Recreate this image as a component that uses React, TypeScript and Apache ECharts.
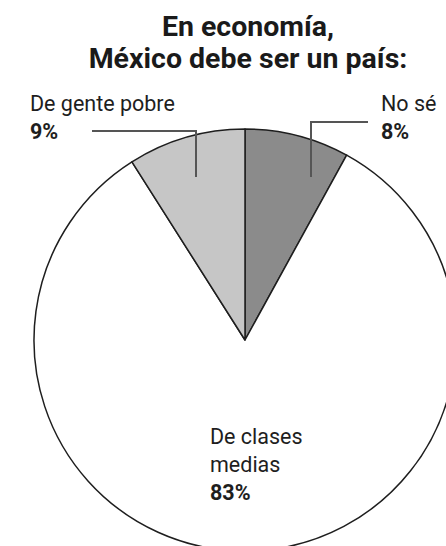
import React, { useEffect, useRef } from "react";
import * as echarts from "echarts";

const titleLines = ["En economía,", "México debe ser un país:"];
const categories = ["No sé", "De clases\nmedias", "De gente pobre"];
const values = [8, 83, 9];
const sliceColors = ["#8b8b8b", "#ffffff", "#c6c6c6"];

export default function App() {
  const ref = useRef<HTMLDivElement>(null);
  useEffect(() => {
    if (!ref.current) return;
    const chart = echarts.init(ref.current, null, { renderer: "svg" });
    const font = "Roboto, 'Noto Sans', sans-serif";
    const common = {
      type: "pie",
      center: [245, 340],
      radius: 211,
      startAngle: 90,
      clockwise: true,
      avoidLabelOverlap: false,
      emphasis: { disabled: true },
      silent: true,
    };
    chart.setOption({
      animation: false,
      backgroundColor: "#ffffff",
      title: {
        text: titleLines.join("\n"),
        left: 248,
        top: 10,
        padding: 0,
        textAlign: "center",
        textStyle: {
          fontFamily: font,
          fontSize: 28.5,
          fontWeight: "bold",
          lineHeight: 32,
          color: "#1a1a1a",
        },
      },
      series: [
        {
          ...common,
          z: 2,
          itemStyle: { borderColor: "#1e1e1e", borderWidth: 1.5 },
          label: { show: false },
          labelLine: { show: false },
          data: categories.map((name, i) => ({
            name,
            value: values[i],
            itemStyle: { color: sliceColors[i] },
          })),
        },
        {
          ...common,
          z: 5,
          itemStyle: { color: "rgba(0,0,0,0)", borderWidth: 0 },
          label: {
            show: true,
            position: "outside",
            formatter: (p: any) => {
              const nameLines = String(p.name)
                .split("\n")
                .map((s: string) => `{n|${s}}`)
                .join("\n");
              return `${nameLines}\n{p|${p.value}%}`;
            },
            rich: {
              n: { fontFamily: font, fontSize: 21.5, lineHeight: 28, color: "#1e1e1e" },
              p: { fontFamily: font, fontSize: 21.5, lineHeight: 28, fontWeight: "bold", color: "#1e1e1e" },
            },
          },
          labelLine: {
            show: true,
            lineStyle: { color: "#555555", width: 2 },
          },
          labelLayout: (params: any) => {
            const i = params.dataIndex;
            if (i === 0) {
              return {
                x: 381,
                y: 89,
                align: "left",
                verticalAlign: "top",
                labelLinePoints: [
                  [311, 177],
                  [311, 122],
                  [368, 122],
                ],
              };
            }
            if (i === 2) {
              return {
                x: 30,
                y: 89,
                align: "left",
                verticalAlign: "top",
                labelLinePoints: [
                  [196, 177],
                  [196, 131],
                  [92, 131],
                ],
              };
            }
            return { x: 210, y: 422, align: "left", verticalAlign: "top" };
          },
          data: categories.map((name, i) => ({
            name,
            value: values[i],
            labelLine: { show: i !== 1 },
          })),
        },
      ],
    });
    return () => chart.dispose();
  }, []);
  return (
    <div
      ref={ref}
      style={{ position: "fixed", left: 0, top: 0, width: 446, height: 546 }}
    />
  );
}
